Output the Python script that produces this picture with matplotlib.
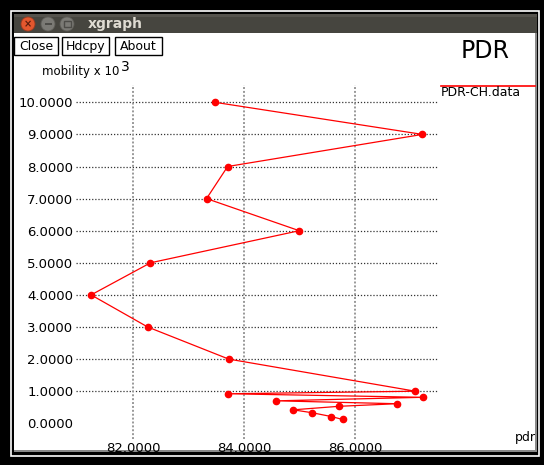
import matplotlib
matplotlib.use("Agg")
import matplotlib.pyplot as plt
from matplotlib.patches import Rectangle, Circle

# mobility (x 10^3) vs pdr
mobility = [10, 9, 8, 7, 6, 5, 4, 3, 2,
            1.0, 0.92, 0.81, 0.70, 0.61, 0.53, 0.42, 0.33, 0.21, 0.12]
pdr = [83.47, 87.21, 83.70, 83.32, 84.99, 82.31, 81.24, 82.26, 83.72,
       87.08, 83.71, 87.22, 84.58, 86.75, 85.71, 84.88, 85.22, 85.57, 85.77]

x_ticks = [82, 84, 86]
y_ticks = [0, 1, 2, 3, 4, 5, 6, 7, 8, 9, 10]
buttons = ["Close", "Hdcpy", "About"]

W, H = 544, 465
fig = plt.figure(figsize=(W / 100, H / 100), dpi=100)
fig.patch.set_facecolor("black")

# background axes in pixel coords for the window frame
bg = fig.add_axes([0, 0, 1, 1])
bg.set_xlim(0, W)
bg.set_ylim(H, 0)
bg.axis("off")

bg.add_patch(Rectangle((11, 11), 527.5, 445, fill=False, ec="white", lw=1.2))
bg.add_patch(Rectangle((14, 14), 523, 438, fc="#8a8a8a", ec="none"))
bg.add_patch(Rectangle((14, 14), 521, 436, fc="white", ec="none"))
bg.add_patch(Rectangle((14, 14), 523, 19, fc="#46453f", ec="none"))
bg.add_patch(Rectangle((14, 14), 523, 3, fc="#55534d", ec="none"))

bg.add_patch(Circle((28, 24), 7, fc="#e4572e", ec="#9b3a1f", lw=0.6))
bg.text(28, 24.5, "×", color="#5a1c0c", fontsize=7, ha="center", va="center",
        fontweight="bold")
bg.add_patch(Circle((48, 24), 7, fc="#7b7a75", ec="#5d5c57", lw=0.6))
bg.add_patch(Rectangle((44.5, 23), 7, 2, fc="#4d4c48", ec="none"))
bg.add_patch(Circle((67, 24), 7, fc="#7b7a75", ec="#5d5c57", lw=0.6))
bg.add_patch(Rectangle((63.5, 21), 7, 6, fc="none", ec="#4d4c48", lw=1))
bg.text(88, 24, "xgraph", color="#dfdbd2", fontsize=10, fontweight="bold",
        ha="left", va="center")

bx = [14, 62, 115]
bw = [44, 47, 47]
for name, x0, w in zip(buttons, bx, bw):
    bg.add_patch(Rectangle((x0, 37), w, 18, fc="white", ec="black", lw=1))
    bg.text(x0 + w / 2, 46.5, name, fontsize=9, ha="center", va="center")

bg.text(485, 51, "PDR", fontsize=17, ha="center", va="center")
bg.text(42, 72, "mobility x 10", fontsize=8.5, ha="left", va="center")
bg.text(121, 67, "3", fontsize=10, ha="left", va="center")
bg.plot([441, 535], [86, 86], color="red", lw=1.2)
bg.text(441, 92, "PDR-CH.data", fontsize=9, ha="left", va="center")
bg.text(536, 437, "pdr", fontsize=9, ha="right", va="center")

# plot area
left, right, top, bottom = 76, 439, 85, 439
ax = fig.add_axes([left / W, 1 - bottom / H, (right - left) / W, (bottom - top) / H])
ax.set_facecolor("none")
ax.set_xlim(80.968, 87.508)
ax.set_ylim(-0.489, 10.539)
for s in ax.spines.values():
    s.set_visible(False)

for y in y_ticks[1:]:
    ax.axhline(y, color="#333333", lw=0.9, ls=(0, (1, 1.5)), zorder=1)
for x in x_ticks:
    ax.axvline(x, color="#999999", lw=1.4, ls=(0, (1, 1)), zorder=1)

ax.plot(pdr, mobility, color="red", lw=0.9, marker="o", ms=4.5,
        mec="red", mfc="red", zorder=3, clip_on=False)

ax.set_xticks(x_ticks)
ax.set_xticklabels([f"{v:.4f}" for v in x_ticks], fontsize=9.5)
ax.set_yticks(y_ticks)
ax.set_yticklabels([f"{v:.4f}" for v in y_ticks], fontsize=9.5)
ax.tick_params(length=0, pad=2)

fig.savefig("out.png", dpi=100, facecolor=fig.get_facecolor())
